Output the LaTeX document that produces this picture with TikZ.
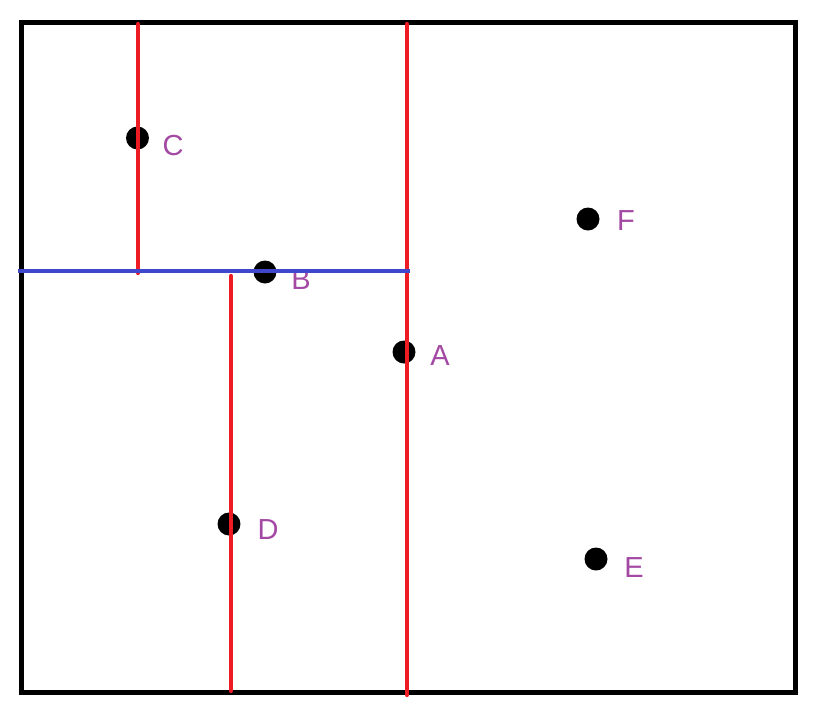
\documentclass[tikz,border=0pt]{standalone}
\usepackage{fontspec}
\setmainfont{Liberation Sans}
\usetikzlibrary{positioning}
\definecolor{splitred}{RGB}{237,28,36}
\definecolor{splitblue}{RGB}{63,72,204}
\definecolor{labelpurple}{RGB}{163,73,164}
\begin{document}
\begin{tikzpicture}[
    x=0.02cm, y=-0.02cm,
    pt/.style={
        circle,
        fill=black,
        inner sep=0pt,
        minimum size=0.46cm
    },
    ptlabel/.style={
        text=labelpurple,
        inner sep=0pt,
        font=\fontsize{16.5}{20}\selectfont
    },
    frame/.style={
        draw=black,
        line width=0.1cm
    },
    xsplit/.style={
        draw=splitred,
        line width=0.085cm,
        line cap=round
    },
    ysplit/.style={
        draw=splitblue,
        line width=0.085cm
    }
]

\useasboundingbox (0,0) rectangle (819,721);

% ------------------------------------------------------------------
% REGION
% ------------------------------------------------------------------

\draw[frame] (21.5,22) rectangle (795,692);

% ------------------------------------------------------------------
% POINTS
% ------------------------------------------------------------------

\node[pt] (c) at (137.5,138) {};
\node[pt] (b) at (265,272) {};
\node[pt] (a) at (404,352) {};
\node[pt] (d) at (229,524) {};
\node[pt] (f) at (588,219) {};
\node[pt] (e) at (596,559) {};

\node[ptlabel] (clabel) at (173,146) {C};
\node[ptlabel] (blabel) at (301,280) {B};
\node[ptlabel] (alabel) at (440,356) {A};
\node[ptlabel] (dlabel) at (268,530) {D};
\node[ptlabel] (flabel) at (626,221) {F};
\node[ptlabel] (elabel) at (634,568) {E};

% ------------------------------------------------------------------
% SPLITTING LINES
% ------------------------------------------------------------------

\coordinate (atop) at (407,24);
\coordinate (abot) at (407,695);
\coordinate (ctop) at (138,24);
\coordinate (cbot) at (138,273);
\coordinate (dtop) at (231,276);
\coordinate (dbot) at (231,691);
\coordinate (bleft) at (18,271);
\coordinate (bright) at (410,271);

\draw[xsplit] (atop) -- (abot);
\draw[xsplit] (ctop) -- (cbot);
\draw[xsplit] (dtop) -- (dbot);
\draw[ysplit] (bleft) -- (bright);

\end{tikzpicture}
\end{document}
